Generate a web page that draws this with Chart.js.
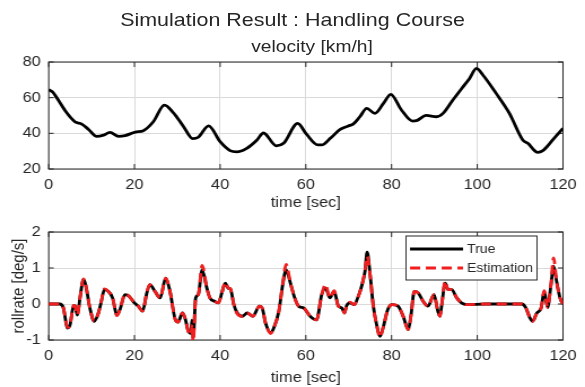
<!DOCTYPE html>
<html lang="en">
<head>
  <meta charset="UTF-8">
  <title>Simulation Result : Handling Course</title>
  <script src="https://cdn.jsdelivr.net/npm/chart.js"></script>
  <style>
    body {
      margin: 0;
      background: #fff;
      font-family: "Liberation Sans", Arial, sans-serif;
      color: #262626;
    }
    #wrap {
      position: relative;
      width: 585px;
      height: 387px;
      overflow: hidden;
    }
    #wrap canvas {
      position: absolute;
      left: 0;
      width: 585px;
    }
    .ttl {
      position: absolute;
      white-space: nowrap;
      transform-origin: center;
      z-index: 2;
    }
    #main-title {
      left: 0;
      width: 585px;
      text-align: center;
      top: 9px;
      font-size: 19px;
      line-height: 22px;
    }
    #sub-title {
      left: 212px;
      width: 200px;
      text-align: center;
      top: 37px;
      font-size: 17px;
      line-height: 20px;
    }
  </style>
</head>
<body>
  <div id="wrap">
    <div id="main-title" class="ttl">Simulation Result : Handling Course</div>
    <div id="sub-title" class="ttl">velocity [km/h]</div>
    <canvas id="vel-chart" width="518" height="214" style="top:0;height:214px"></canvas>
    <canvas id="roll-chart" width="518" height="173" style="top:214px;height:173px"></canvas>
  </div>

  <script>
    // velocity [km/h]
    const velTime = [0, 1, 2, 4.2, 6.1, 7.7, 9.3, 11.2, 12.8, 14.3,
      16.3, 17.8, 20.2, 22.1, 24.4, 27, 29.1, 31.4, 33.6, 34.9,
      37.3, 40, 42.3, 43.9, 46.2, 48.6, 50.1, 53.1, 54.8, 58.1,
      60, 62.8, 63.7, 65.7, 68, 69.9, 71.1, 72.6, 74.2, 76.1,
      78.1, 79.8, 82.3, 84.9, 85.8, 88.1, 90.5, 92, 94.3, 96.7,
      98.2, 99.8, 101.3, 104.4, 107.5, 110.6, 111.8, 114.1, 115.3, 117.6,
      120];
    const velValue = [64.5, 63, 59.5, 51.5, 46.5, 45.2, 42.2, 38.3, 39, 40.5,
      38.3, 38.7, 40.7, 41.5, 46.5, 55.8, 51.5, 44, 37, 37.8,
      44.2, 35.3, 30.3, 29.6, 31.6, 36.3, 40.2, 33, 34.4, 45.6,
      40, 33.5, 33.5, 37.2, 42.2, 44.1, 45.3, 49.3, 54, 51.2,
      56.8, 61.9, 53.1, 46.9, 47.1, 50.1, 49.3, 51.2, 58.7, 66.2,
      70.8, 76.4, 72.7, 62.4, 51.2, 36.3, 34.4, 29.3, 30.3, 36.3,
      42.8];

    // rollrate [deg/s]
    const rollTime = [0, 2.6, 3.4, 4.4, 5.0, 5.8, 6.1, 6.7, 7.3, 8.1,
      8.6, 9.6, 10.6, 11.6, 12.2, 13.0, 13.9, 14.9, 15.9, 16.6,
      17.8, 18.8, 20.0, 20.9, 21.9, 22.9, 23.6, 24.8, 26.0, 27.3,
      28.3, 29.5, 30.2, 31.2, 31.8, 32.6, 33.2, 33.4, 33.7, 34.3,
      34.9, 35.8, 36.9, 37.6, 38.8, 39.6, 40.4, 41.2, 41.9, 42.4,
      43.2, 44.0, 45.2, 46.3, 47.6, 49.2, 49.8, 50.6, 51.8, 52.5,
      53.7, 54.6, 55.4, 56.4, 57.4, 58.3, 59.5, 61.0, 62.5, 63.7,
      64.6, 65.6, 66.6, 67.6, 68.4, 69.0, 69.5, 70.3, 71.3, 72.1,
      73.0, 73.8, 74.3, 75.0, 75.7, 76.5, 77.3, 78.0, 79.1, 80.1,
      81.5, 82.7, 83.9, 84.5, 85.3, 86.2, 87.4, 88.5, 89.9, 90.8,
      91.3, 91.8, 92.5, 93.2, 94.0, 95.2, 96.3, 97.5, 101.8, 110.4,
      111.3, 112.3, 112.9, 113.9, 114.9, 115.6, 116.4, 117.2, 117.8, 118.5,
      119.3, 120];
    const rollTrue = [0, 0, -0.1, -0.67, -0.57, -0.04, -0.05, -0.31, 0.17, 0.68,
      0.54, -0.11, -0.48, -0.25, 0.03, 0.4, 0.35, 0.17, -0.31, -0.16,
      0.26, 0.21, 0.03, -0.06, -0.2, 0.31, 0.54, 0.35, 0.17, 0.72,
      0.35, -0.42, -0.5, -0.25, -0.39, -0.76, -0.82, -0.45, -0.95, 0.17,
      0.26, 0.95, 0.44, 0.17, 0.07, 0.03, 0.31, 0.58, 0.44, 0.42,
      -0.02, -0.25, -0.34, -0.25, -0.34, -0.06, -0.11, -0.53, -0.8, -0.67,
      -0.2, 0.54, 0.95, 0.58, 0.17, -0.06, -0.11, -0.34, -0.44, 0.26,
      0.44, 0.17, 0.35, -0.06, -0.11, -0.25, -0.05, 0.03, -0.02, 0.17,
      0.49, 0.91, 1.44, 0.81, -0.02, -0.57, -0.9, -0.67, -0.16, -0.02,
      -0.06, -0.34, -0.71, -0.34, 0.35, 0.31, 0.07, -0.06, 0.26, -0.2,
      -0.34, 0.07, 0.58, 0.4, 0.4, 0.17, 0.03, -0.02, 0, 0,
      -0.1, -0.39, -0.48, -0.25, -0.11, 0.35, -0.09, 0.54, 1.05, 0.63,
      0.17, 0];
    const rollEst = [0, 0, -0.1, -0.65, -0.57, -0.04, -0.05, -0.3, 0.17, 0.7,
      0.54, -0.11, -0.47, -0.25, 0.03, 0.42, 0.35, 0.17, -0.32, -0.16,
      0.28, 0.21, 0.03, -0.06, -0.2, 0.33, 0.54, 0.35, 0.17, 0.72,
      0.35, -0.42, -0.5, -0.25, -0.39, -0.78, -0.85, -0.6, -1.05, 0.17,
      0.26, 1.07, 0.44, 0.17, 0.07, 0.03, 0.31, 0.6, 0.44, 0.42,
      -0.02, -0.27, -0.34, -0.25, -0.34, -0.06, -0.11, -0.53, -0.82, -0.67,
      -0.2, 0.56, 1.1, 0.58, 0.17, -0.06, -0.11, -0.34, -0.44, 0.26,
      0.54, 0.17, 0.37, -0.06, -0.09, -0.25, -0.05, 0.05, -0.02, 0.17,
      0.49, 0.93, 1.32, 0.81, -0.02, -0.57, -0.92, -0.67, -0.16, -0.02,
      -0.06, -0.34, -0.71, -0.34, 0.35, 0.31, 0.07, -0.06, 0.26, -0.2,
      -0.34, 0.07, 0.63, 0.4, 0.4, 0.17, 0.03, -0.02, 0, 0,
      -0.1, -0.39, -0.48, -0.25, -0.11, 0.37, -0.09, 0.56, 1.28, 0.63,
      0.17, 0];

    const xTicks = { min: 0, max: 120, step: 20 };
    const velTicks = { min: 20, max: 80, step: 20 };
    const rollTicks = { min: -1, max: 2, step: 1 };

    // the canvases are drawn narrower and stretched to 585px wide
    const SX = 585 / 518;
    const hx = v => v / SX;
    const textColor = '#262626';
    const gridColor = '#dadada';
    const family = '"Liberation Sans", Arial, sans-serif';
    const tickFont = { family: family, size: 14.5 };
    const labelFont = { family: family, size: 14.5 };
    const yLabelFont = { family: family, size: 15 };
    const legendFont = { family: family, size: 12.5 };

    document.querySelectorAll('.ttl').forEach(el => {
      el.style.transform = `scaleX(${SX})`;
    });

    function toPoints(xs, ys) {
      return xs.map((x, i) => ({ x: x, y: ys[i] }));
    }

    // MATLAB-like box with inward ticks
    const boxPlugin = {
      id: 'axesBox',
      beforeDatasetsDraw(chart) {
        const { ctx, chartArea: a, scales } = chart;
        ctx.save();
        ctx.strokeStyle = textColor;
        ctx.lineWidth = 1;
        ctx.strokeRect(a.left, a.top, a.right - a.left, a.bottom - a.top);
        ctx.beginPath();
        scales.x.ticks.forEach(t => {
          const x = scales.x.getPixelForValue(t.value);
          ctx.moveTo(x, a.bottom); ctx.lineTo(x, a.bottom - 5);
          ctx.moveTo(x, a.top); ctx.lineTo(x, a.top + 5);
        });
        scales.y.ticks.forEach(t => {
          const y = scales.y.getPixelForValue(t.value);
          ctx.moveTo(a.left, y); ctx.lineTo(a.left + hx(5), y);
          ctx.moveTo(a.right, y); ctx.lineTo(a.right - hx(5), y);
        });
        ctx.stroke();
        ctx.restore();
      }
    };

    // legend box inside the axes, top right
    const insideLegend = {
      id: 'insideLegend',
      afterDraw(chart) {
        const ctx = chart.ctx;
        const x0 = hx(406), x1 = hx(537), y0 = 22, y1 = 66;
        ctx.save();
        ctx.fillStyle = '#fff';
        ctx.fillRect(x0, y0, x1 - x0, y1 - y0);
        ctx.strokeStyle = textColor;
        ctx.lineWidth = 1;
        ctx.strokeRect(x0, y0, x1 - x0, y1 - y0);
        const rows = [35, 54];
        ['True', 'Estimation'].forEach((label, i) => {
          const ds = chart.data.datasets.find(d => d.label === label);
          ctx.beginPath();
          ctx.strokeStyle = ds.borderColor;
          ctx.lineWidth = ds.borderWidth;
          ctx.setLineDash(ds.borderDash || []);
          ctx.moveTo(hx(410), rows[i]);
          ctx.lineTo(hx(463), rows[i]);
          ctx.stroke();
          ctx.setLineDash([]);
          ctx.fillStyle = textColor;
          ctx.font = `${legendFont.size}px ${legendFont.family}`;
          ctx.textAlign = 'left';
          ctx.textBaseline = 'middle';
          ctx.fillText(ds.label, hx(467), rows[i] + 1);
        });
        ctx.restore();
      }
    };

    function xScale(titlePadBottom, height) {
      return {
        type: 'linear',
        min: xTicks.min,
        max: xTicks.max,
        ticks: { stepSize: xTicks.step, padding: 7, color: textColor, font: tickFont, maxRotation: 0 },
        grid: { color: gridColor, drawTicks: false },
        border: { display: false },
        title: {
          display: true, text: 'time [sec]', color: textColor, font: labelFont,
          padding: { top: 0, bottom: titlePadBottom }
        },
        afterFit: s => { s.height = height; }
      };
    }

    function yScale(range, title) {
      const sc = {
        type: 'linear',
        min: range.min,
        max: range.max,
        ticks: { stepSize: range.step, padding: 7, color: textColor, font: tickFont },
        grid: { color: gridColor, drawTicks: false },
        border: { display: false },
        afterFit: s => { s.width = hx(48.7); }
      };
      if (title) {
        sc.title = {
          display: true, text: title, color: textColor, font: yLabelFont,
          padding: { top: 8, bottom: 0 }
        };
      }
      return sc;
    }

    const baseOptions = {
      responsive: false,
      animation: false,
      devicePixelRatio: 1,
      elements: { point: { radius: 0 } },
      plugins: { legend: { display: false }, tooltip: { enabled: false } }
    };

    new Chart(document.getElementById('vel-chart'), {
      type: 'line',
      data: {
        datasets: [{
          label: 'velocity',
          data: toPoints(velTime, velValue),
          borderColor: '#000',
          borderWidth: 2.8,
          cubicInterpolationMode: 'monotone'
        }]
      },
      options: Object.assign({}, baseOptions, {
        layout: { padding: { top: 62, right: 518 - hx(563), left: 0, bottom: 0 } },
        scales: { x: xScale(2.2, 45), y: yScale(velTicks, null) }
      }),
      plugins: [boxPlugin]
    });

    new Chart(document.getElementById('roll-chart'), {
      type: 'line',
      data: {
        datasets: [
          {
            label: 'True',
            data: toPoints(rollTime, rollTrue),
            borderColor: '#000',
            borderWidth: 2.8,
            cubicInterpolationMode: 'monotone',
            order: 2
          },
          {
            label: 'Estimation',
            data: toPoints(rollTime, rollEst),
            borderColor: '#f01e1e',
            borderWidth: 2.8,
            borderDash: [9, 5],
            cubicInterpolationMode: 'monotone',
            order: 1
          }
        ]
      },
      options: Object.assign({}, baseOptions, {
        layout: { padding: { top: 18, right: 518 - hx(563), left: 0, bottom: 0 } },
        scales: { x: xScale(0.4, 47), y: yScale(rollTicks, 'rollrate [deg/s]') }
      }),
      plugins: [boxPlugin, insideLegend]
    });
  </script>
</body>
</html>
